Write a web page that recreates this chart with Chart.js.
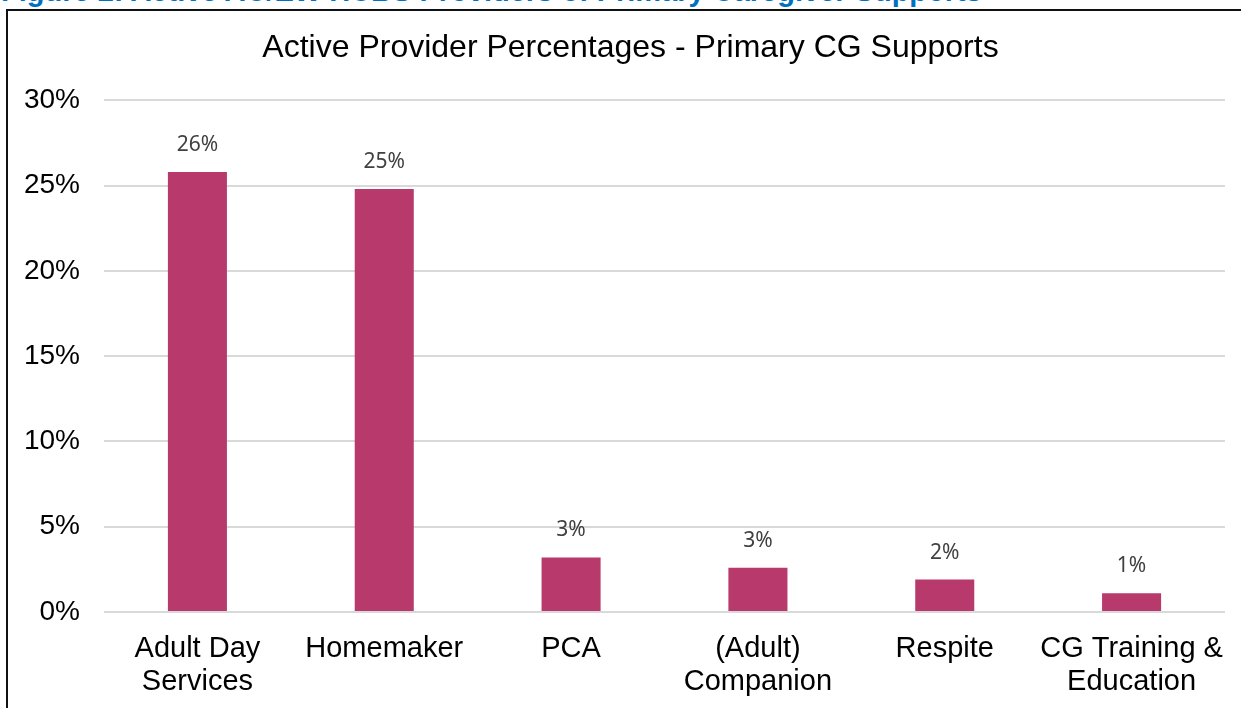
<!DOCTYPE html>
<html>
<head>
<meta charset="utf-8">
<script src="https://cdn.jsdelivr.net/npm/chart.js@4.4.0/dist/chart.umd.min.js"></script>
<style>
    html, body { margin: 0; padding: 0; background: #fff; overflow: hidden; }
    #wrap { position: relative; width: 1241px; height: 708px; overflow: hidden; }
    #caption {
        position: absolute; left: 1px; top: -23px;
        font: bold 29px/29px "Liberation Sans", Arial, sans-serif;
        color: #0070c0; white-space: nowrap;
    }
    #frame {
        position: absolute; left: 6px; top: 9px; width: 1300px; height: 800px;
        border-left: 2px solid #111; border-top: 2px solid #111;
        pointer-events: none;
    }
    canvas { position: absolute; left: 0; top: 0; }
</style>
</head>
<body>
<div id="wrap">
    <div id="caption">Figure 2: Active AC/EW HCBS Providers of Primary Caregiver Supports</div>
    <div id="frame"></div>
    <canvas id="providerChart" width="1241" height="708"></canvas>
</div>
<script>
const categories = [
    ['Adult Day', 'Services'],
    'Homemaker',
    'PCA',
    ['(Adult)', 'Companion'],
    'Respite',
    ['CG Training &', 'Education']
];
const providerPct = [25.8, 24.8, 3.2, 2.6, 1.9, 1.1];
const yTicks = [0, 5, 10, 15, 20, 25, 30];

const AXIS_FONT = '"Liberation Sans", Arial, sans-serif';

// rounded value above each bar, like the "outside end" labels
const valueLabels = {
    id: 'valueLabels',
    afterDatasetsDraw(chart) {
        const ctx = chart.ctx;
        const meta = chart.getDatasetMeta(0);
        ctx.save();
        ctx.fillStyle = '#404040';
        ctx.font = '21px "Noto Sans", "Open Sans", sans-serif';
        ctx.textAlign = 'center';
        ctx.textBaseline = 'middle';
        meta.data.forEach((bar, i) => {
            ctx.fillText(Math.round(providerPct[i]) + '%', bar.x, bar.y - 27);
        });
        ctx.restore();
    }
};

const ctx = document.getElementById('providerChart').getContext('2d');
new Chart(ctx, {
    type: 'bar',
    data: {
        labels: categories,
        datasets: [{
            data: providerPct,
            backgroundColor: '#b8396b',
            barPercentage: 0.316,
            categoryPercentage: 1
        }]
    },
    options: {
        responsive: false,
        animation: false,
        layout: { padding: { left: 20, right: 0, top: 0, bottom: 0 } },
        plugins: {
            legend: { display: false },
            tooltip: { enabled: false },
            title: {
                display: true,
                text: 'Active Provider Percentages - Primary CG Supports',
                color: '#000',
                font: { family: AXIS_FONT, size: 32, weight: 'normal', lineHeight: 1.2 },
                padding: { top: 29, bottom: 33 }
            }
        },
        scales: {
            x: {
                afterFit(scale) {
                    scale.height = 96;
                    scale.paddingRight = 16;
                },
                grid: { display: false, drawTicks: false },
                border: { display: false },
                ticks: {
                    color: '#000',
                    font: { family: AXIS_FONT, size: 29, lineHeight: 1.14 },
                    padding: 20,
                    maxRotation: 0,
                    minRotation: 0,
                    autoSkip: false
                }
            },
            y: {
                min: 0,
                max: 30,
                afterFit(scale) { scale.width = 84; },
                afterBuildTicks(scale) { scale.ticks = yTicks.map(v => ({ value: v })); },
                grid: { color: '#d9d9d9', lineWidth: 2, drawTicks: false },
                border: { display: false },
                ticks: {
                    color: '#000',
                    font: { family: AXIS_FONT, size: 28 },
                    padding: 24,
                    callback: v => v + '%'
                }
            }
        }
    },
    plugins: [valueLabels]
});
</script>
</body>
</html>
